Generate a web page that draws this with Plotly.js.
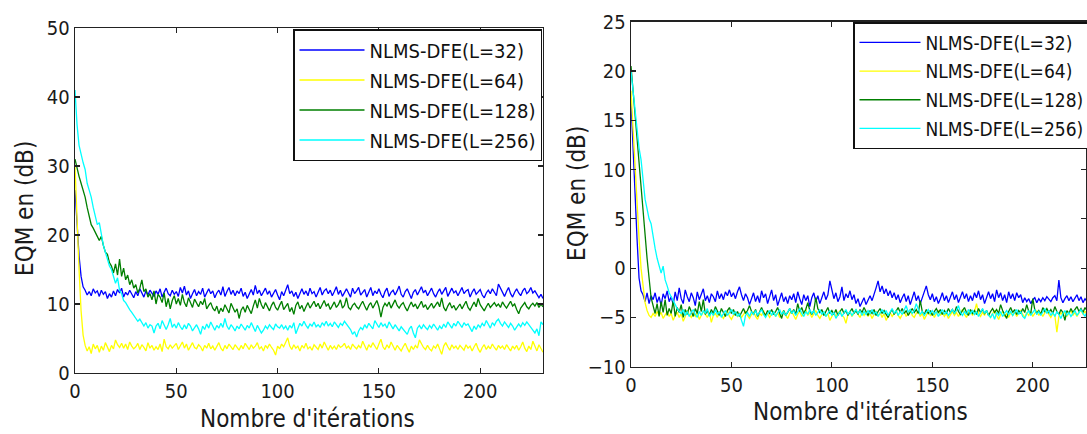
<!DOCTYPE html>
<html>
<head>
<meta charset="utf-8">
<script src="https://cdn.plot.ly/plotly-3.0.1.min.js"></script>
<style>html,body{margin:0;padding:0;background:#fff;}#chart{width:1087px;height:434px;}</style>
</head>
<body>
<div id="chart"></div>
<script>
// ---------- DATA ----------
const seriesNames = ["NLMS-DFE(L=32)", "NLMS-DFE(L=64)", "NLMS-DFE(L=128)", "NLMS-DFE(L=256)"];
const seriesColors = ["#0000ff", "#ffff00", "#007f00", "#00ffff"];

// Left panel (EQM, dB)
const leftL32 = [26.5,21.5,17,14,12.5,12,11.3,11.8,11.2,12.2,
11.6,11.9,11.1,12.0,11.4,11.8,10.8,11.5,11.0,11.9,
11.2,12.1,11.6,12.3,11.0,11.7,11.3,12.0,11.4,10.9,
11.8,11.2,12.2,11.5,11.0,11.9,11.3,12.0,11.6,11.1,
11.9,11.4,12.2,11.0,11.7,12.3,11.5,11.2,12.0,11.4,
11.8,11.1,12.4,11.6,12.6,11.3,11.9,10.8,11.5,12.1,
11.2,11.8,11.4,12.3,11.0,11.6,12.2,11.5,11.9,10.9,
11.6,12.0,11.3,12.5,11.1,11.8,12.4,11.4,12.0,11.2,
11.9,11.5,12.3,11.1,11.7,10.8,11.6,12.1,11.3,12.7,
11.5,12.0,11.2,11.8,12.3,11.4,11.9,11.0,11.6,12.1,
11.3,10.6,11.8,11.2,12.0,12.8,11.5,11.9,11.1,11.7,
10.8,11.6,12.2,11.4,11.9,11.2,12.3,11.5,11.8,11.0,
11.7,12.4,11.3,11.9,12.2,11.5,12.0,11.2,11.8,12.5,
11.4,12.0,11.1,11.7,12.2,11.6,11.0,12.3,11.5,11.9,
12.4,11.3,11.8,12.1,11.0,11.7,12.4,11.2,11.9,11.5,
12.2,11.4,10.9,11.8,12.3,11.1,11.7,12.0,11.3,11.9,
12.6,11.4,11.0,11.8,12.2,11.5,10.8,11.7,12.1,11.3,
11.9,12.5,11.6,12.0,11.2,11.8,12.3,11.5,11.0,11.7,
12.2,11.4,11.9,12.4,11.1,11.7,12.3,11.6,11.9,11.2,
11.8,12.4,11.5,11.9,12.1,11.0,11.7,12.2,11.4,11.8,
12.1,11.3,10.9,11.6,12.0,11.5,12.2,11.7,11.2,12.9,
12.3,11.6,11.1,11.8,12.4,11.5,11.0,11.7,12.2,11.6,
11.2,11.9,12.3,11.5,11.8,12.4,11.6,11.9,11.3,10.9,
11.4,10.8];
const leftL64 = [30,22,15,9,5.5,4,3.2,3.8,2.8,4.2,
3.5,4.0,3.0,3.9,3.3,4.4,3.6,3.1,4.0,3.5,
4.8,4.1,3.7,4.3,3.6,4.2,3.4,4.5,3.9,3.5,
3.8,4.3,3.4,4.1,3.7,3.2,4.4,3.6,4.0,3.3,
3.8,3.4,4.2,3.1,4.9,3.8,3.5,4.1,3.6,3.9,
4.3,3.4,3.9,4.5,3.6,4.2,3.3,3.9,4.4,3.7,
3.5,4.1,3.8,3.2,4.0,3.6,4.3,3.5,3.9,3.3,
3.9,4.4,3.6,3.2,4.0,3.5,4.2,3.8,3.4,4.1,
3.7,3.3,4.0,3.5,4.3,3.8,3.4,4.1,3.6,3.9,
4.4,3.5,3.8,3.2,4.0,3.6,4.2,3.7,3.3,2.6,
3.9,3.5,4.2,3.8,4.6,5.1,3.9,3.4,4.1,3.6,
3.9,3.2,4.0,3.6,4.3,3.5,3.8,3.3,4.1,3.7,
3.4,4.2,3.6,4.5,3.8,3.3,4.0,3.5,3.9,3.4,
4.1,3.7,3.9,4.3,3.6,3.9,3.4,4.2,3.8,3.5,
4.0,3.6,4.6,3.8,3.3,4.1,3.7,4.4,3.9,3.4,
4.2,4.9,3.8,3.4,4.1,3.6,4.5,3.9,3.3,4.0,
3.5,3.2,3.8,4.3,3.6,3.0,3.9,3.4,4.0,3.6,
4.8,4.2,3.7,3.4,4.0,3.5,3.2,3.9,3.6,4.2,
3.5,2.7,3.9,4.4,3.8,3.3,4.1,3.6,3.9,3.4,
4.0,3.7,3.3,4.1,3.6,3.9,3.2,3.8,4.3,3.5,
3.0,3.7,4.1,3.4,3.9,3.5,4.2,3.7,3.3,4.0,
3.6,3.9,3.4,4.1,3.7,3.2,3.9,3.5,4.0,3.3,
3.8,4.5,3.6,3.1,3.9,3.4,4.6,3.8,3.2,4.1,
3.5,3.0];
const leftL128 = [31,29.5,28.5,27.5,26.5,25.5,24,22.5,21.5,21,
20.5,19.8,19.2,19.8,18.5,17.5,17.2,16.0,15.5,14.5,
15.8,14.2,16.5,14.0,15.2,13.5,14.2,12.8,13.5,12.3,
12.8,11.6,12.3,13.5,11.8,12.2,11.0,11.5,10.6,11.9,
10.0,11.4,11.0,10.2,11.6,9.6,10.8,9.3,10.5,11.2,
10.0,10.8,9.8,11.4,10.2,9.6,10.9,10.3,9.5,10.7,
10.1,9.6,10.4,9.9,10.8,9.3,9.8,10.2,9.4,9.0,
9.7,8.6,9.4,8.9,9.9,9.2,8.7,10.1,9.5,8.8,
9.3,7.9,9.1,9.6,8.8,9.8,9.2,8.6,9.7,10.6,
9.4,10.8,9.9,9.3,10.2,9.6,9.0,9.8,10.3,9.5,
9.1,9.8,10.4,9.2,9.7,10.1,8.9,9.5,8.5,9.8,
10.3,9.3,9.8,8.9,9.6,10.2,9.4,9.9,10.4,9.6,
10.1,9.3,9.8,10.5,9.7,10.0,9.2,9.8,10.3,9.5,
9.9,10.6,9.4,9.8,10.9,9.5,9.2,9.8,10.1,9.6,
9.3,9.9,10.4,9.7,9.1,9.8,10.2,9.4,9.9,10.5,
9.6,8.1,9.5,10.1,9.7,10.3,9.4,9.9,10.6,9.8,
9.4,9.9,10.2,9.5,9.0,9.7,10.3,9.6,10.0,9.3,
9.8,10.4,9.5,9.9,9.2,9.7,10.1,9.4,9.8,10.3,
9.6,10.9,9.5,9.0,9.7,10.2,9.4,9.8,9.1,9.6,
10.0,9.3,9.8,10.4,9.5,9.1,9.7,10.3,9.6,10.8,
9.9,9.4,9.0,9.6,10.1,9.5,9.8,10.2,9.7,10.0,
9.5,10.3,9.8,9.4,9.9,10.4,9.7,10.0,9.2,8.6,
9.4,9.9,10.2,9.6,9.3,9.8,10.1,9.7,10.2,9.5,
10.0,9.6];
const leftL256 = [41,36,33,31.5,30.5,29.5,27.5,26.5,25.5,24.0,
22.5,21.5,21.8,20.0,18.5,17.5,16.5,15.5,15.0,14.0,
13.0,13.8,12.0,11.5,10.5,10.2,9.6,9.2,8.8,8.3,
8.0,7.5,7.8,7.2,6.8,7.3,6.5,7.0,6.8,5.8,
6.8,7.2,6.4,7.6,6.8,6.3,7.0,7.9,6.6,7.1,
6.5,7.3,6.7,6.3,7.0,6.4,7.2,6.8,6.1,6.6,
7.0,6.4,5.6,6.8,6.3,7.1,6.5,7.4,6.7,6.2,
6.9,6.5,7.2,6.6,7.9,6.8,6.3,7.0,6.6,6.1,
6.8,6.4,7.1,6.7,6.2,6.9,6.5,7.3,6.6,6.0,
6.9,6.3,5.8,6.2,6.8,6.4,7.0,6.6,6.3,7.1,
6.7,6.5,7.0,6.4,6.8,6.2,6.9,6.5,7.3,5.7,
6.6,7.2,6.8,7.5,6.9,6.5,7.1,6.8,7.4,6.7,
7.0,6.6,7.3,6.9,7.5,6.8,7.2,6.7,7.4,7.0,
6.6,7.2,6.9,7.5,7.1,6.8,6.3,5.6,6.0,5.2,
6.1,6.6,6.3,7.0,6.5,7.2,6.8,6.4,7.6,7.0,
6.6,7.3,6.8,7.1,6.5,7.4,6.9,6.4,7.0,6.5,
6.1,6.7,6.3,6.0,5.6,6.4,6.8,5.8,5.1,6.5,
6.9,6.4,7.0,6.6,6.3,6.9,6.5,7.1,6.7,6.2,
6.8,6.4,7.1,6.6,7.4,6.9,6.5,7.2,6.8,7.5,
7.0,6.6,7.3,6.9,7.1,6.5,6.0,6.8,6.3,7.0,
6.6,7.2,6.8,7.6,7.0,6.5,7.3,6.9,7.5,7.8,
7.2,6.8,7.4,7.0,6.6,7.2,6.8,6.2,6.6,7.1,
6.7,7.3,6.9,7.4,7.0,6.5,6.2,5.8,6.4,5.4,
7.4,7.0];

// Right panel (EQM, dB)
const rightL32 = [17,12,7,3,-1,-2.3,-2.7,-3.4,-2.5,-3.6,
-2.8,-3.2,-2.5,-3.5,-2.9,-3.8,-2.6,-3.1,-2.3,-3.4,
-2.9,-3.7,-2.4,-3.3,-2.0,-3.1,-3.6,-2.2,-2.9,-3.4,
-2.5,-3.0,-3.8,-2.4,-3.2,-2.7,-2.1,-3.3,-2.8,-3.5,
-2.6,-2.9,-3.4,-2.3,-3.1,-2.6,-3.2,-2.4,-2.8,-2.2,
-2.9,-2.5,-3.1,-2.4,-1.9,-2.7,-3.3,-2.6,-3.0,-3.7,
-3.1,-2.5,-3.4,-2.8,-3.5,-2.3,-3.0,-2.6,-3.6,-2.9,
-2.2,-3.3,-2.7,-3.8,-3.0,-2.5,-3.4,-2.9,-3.6,-2.8,
-3.2,-2.6,-3.5,-2.4,-3.1,-3.7,-2.7,-3.3,-2.8,-3.9,
-3.0,-2.5,-3.4,-2.8,-3.6,-3.0,-2.4,-3.2,-2.7,-1.3,
-2.2,-3.1,-2.5,-3.4,-2.9,-1.9,-3.3,-2.6,-3.0,-2.3,
-3.2,-2.7,-3.6,-3.1,-3.9,-3.4,-3.0,-3.7,-3.2,-2.8,
-3.3,-2.5,-2.0,-1.3,-2.4,-1.8,-2.6,-2.1,-2.8,-2.3,
-3.0,-2.5,-3.2,-2.7,-3.5,-3.0,-2.6,-3.4,-2.8,-3.7,
-3.1,-2.4,-3.3,-2.8,-3.6,-3.0,-2.3,-1.8,-2.7,-3.2,
-2.6,-3.4,-2.9,-3.6,-3.1,-2.5,-3.3,-2.8,-3.5,-3.0,
-2.4,-3.2,-2.7,-3.5,-2.9,-2.4,-3.1,-2.6,-3.4,-2.8,
-3.3,-2.5,-3.0,-2.3,-3.2,-2.7,-3.6,-2.9,-2.4,-3.1,
-2.6,-3.4,-2.2,-3.0,-2.5,-3.3,-2.7,-3.5,-2.4,-3.1,
-2.6,-3.3,-2.5,-3.0,-2.7,-3.5,-3.0,-3.4,-3.1,-3.6,
-3.2,-3.0,-3.5,-3.1,-3.4,-3.0,-3.3,-2.9,-3.2,-3.4,
-3.0,-2.8,-3.3,-1.2,-3.0,-3.5,-3.1,-2.8,-3.3,-2.9,
-3.4,-3.0,-2.7,-3.3,-2.9,-3.5,-3.1,-3.4];
const rightL64 = [18,14,10,6.5,3,0,-2,-3.5,-4.3,-4.8,
-5.0,-4.6,-4.9,-4.4,-4.8,-4.5,-5.1,-4.7,-4.4,-4.9,
-4.6,-5.3,-4.8,-4.5,-5.0,-4.6,-5.4,-4.9,-4.3,-4.7,
-5.0,-4.6,-4.9,-4.5,-5.2,-4.8,-4.4,-4.7,-5.0,-4.5,
-5.5,-4.8,-4.6,-5.0,-4.4,-4.8,-5.1,-4.7,-4.3,-4.9,
-5.2,-4.8,-4.5,-4.9,-4.6,-5.0,-4.7,-4.4,-4.8,-5.1,
-4.7,-4.4,-4.9,-5.2,-4.6,-4.8,-4.3,-4.9,-4.6,-5.0,
-4.7,-4.4,-4.9,-4.5,-5.0,-4.6,-4.3,-4.8,-5.1,-4.6,
-4.4,-4.8,-5.2,-4.7,-4.4,-4.9,-4.6,-4.2,-4.8,-4.5,
-5.0,-4.6,-4.3,-4.8,-5.1,-4.7,-4.4,-4.9,-4.6,-5.3,
-4.8,-4.5,-4.9,-4.6,-4.3,-4.8,-5.0,-5.6,-4.7,-4.4,
-4.9,-4.6,-4.2,-4.7,-5.0,-4.5,-4.8,-4.4,-4.9,-4.6,
-5.1,-4.7,-4.4,-4.8,-4.5,-5.0,-4.6,-5.3,-4.8,-4.5,
-4.9,-4.6,-4.3,-4.8,-5.1,-4.7,-4.4,-4.9,-4.6,-4.2,
-4.8,-5.0,-4.6,-4.4,-4.9,-4.6,-5.2,-4.7,-4.4,-4.8,
-4.5,-5.0,-4.6,-4.3,-4.8,-4.5,-4.9,-4.6,-5.1,-4.7,
-4.4,-4.8,-4.5,-4.9,-4.6,-4.2,-4.7,-5.0,-4.5,-4.3,
-4.8,-4.4,-3.6,-4.6,-4.9,-4.5,-4.8,-4.3,-4.7,-5.0,
-4.6,-4.3,-4.8,-5.2,-4.7,-4.4,-4.9,-4.6,-5.0,-4.5,
-4.8,-4.4,-4.9,-4.6,-4.3,-4.7,-5.0,-4.5,-4.8,-4.4,
-4.9,-4.6,-4.3,-4.8,-4.5,-4.9,-4.6,-4.2,-4.7,-5.0,
-4.6,-4.8,-6.5,-4.9,-4.5,-4.8,-4.4,-4.9,-4.6,-4.3,
-4.8,-4.5,-4.9,-4.6,-4.2,-4.7,-4.4,-4.6];
const rightL128 = [20.5,18,15.5,13,11,8.5,5.5,3,1,-1,
-3.0,-3.8,-4.6,-3.6,-4.9,-3.4,-4.5,-3.2,-4.8,-4.1,
-4.6,-3.3,-4.9,-4.0,-4.5,-3.7,-5.0,-4.2,-4.7,-3.9,
-4.5,-4.9,-4.1,-4.6,-3.4,-4.4,-3.2,-4.7,-4.3,-4.8,
-4.2,-4.6,-3.9,-4.4,-4.8,-4.1,-4.5,-4.9,-4.3,-4.0,
-4.6,-4.2,-4.8,-4.4,-4.9,-4.5,-4.1,-4.6,-4.3,-3.8,
-4.4,-4.7,-4.2,-4.9,-4.4,-4.0,-4.5,-4.8,-4.3,-4.6,
-4.2,-4.7,-4.4,-4.0,-4.6,-5.1,-4.3,-4.8,-4.5,-4.1,
-4.6,-4.2,-4.7,-3.6,-4.4,-4.0,-4.6,-4.2,-3.5,-4.3,
-4.7,-4.3,-3.0,-4.1,-4.5,-4.2,-4.8,-4.4,-4.0,-4.6,
-4.3,-4.7,-4.2,-4.8,-4.4,-4.1,-4.6,-4.3,-4.8,-4.5,
-4.1,-4.6,-4.3,-4.7,-4.2,-4.5,-4.0,-4.4,-4.8,-4.3,
-4.6,-4.2,-4.8,-4.4,-4.1,-4.6,-4.3,-4.7,-5.0,-4.5,
-4.2,-4.7,-4.4,-4.0,-4.5,-4.1,-4.6,-4.3,-4.8,-4.4,
-4.1,-4.5,-4.2,-4.6,-3.3,-4.4,-4.7,-4.2,-4.6,-4.3,
-4.8,-4.4,-4.1,-4.5,-4.2,-4.7,-4.3,-4.6,-4.1,-4.5,
-4.2,-4.6,-3.9,-4.4,-4.7,-4.3,-4.0,-4.5,-4.8,-4.2,
-4.6,-4.3,-4.7,-4.1,-4.5,-4.2,-4.6,-4.3,-4.8,-4.4,
-4.1,-4.5,-4.2,-4.6,-3.7,-4.3,-4.7,-5.1,-4.4,-4.0,
-4.5,-4.2,-4.7,-4.3,-4.6,-4.1,-4.5,-3.7,-4.4,-4.6,
-3.1,-4.2,-4.6,-4.3,-4.7,-4.0,-4.4,-4.1,-4.5,-4.2,
-4.6,-3.9,-4.4,-4.7,-4.2,-4.5,-5.3,-4.3,-4.6,-4.1,
-4.5,-4.2,-3.9,-4.4,-4.1,-4.5,-4.0,-4.3];
const rightL256 = [20,18,16,14,12.2,11,9,7,6,5,
4.5,3,2,1,0.3,-0.5,0.2,-1.2,-1.8,-2.5,
-2.9,-3.4,-3.7,-4.1,-4.4,-4.6,-4.2,-4.8,-4.4,-4.9,
-4.5,-4.2,-4.7,-5.0,-4.4,-4.8,-4.3,-4.6,-4.1,-4.9,
-4.5,-4.8,-4.2,-4.7,-4.4,-5.0,-4.6,-4.3,-4.8,-4.5,
-4.2,-4.7,-4.4,-4.9,-4.6,-5.3,-5.9,-4.8,-4.5,-4.9,
-4.4,-4.7,-4.3,-4.8,-4.5,-4.2,-4.7,-5.0,-4.6,-4.3,
-4.8,-4.4,-4.9,-4.6,-4.2,-4.7,-4.4,-4.8,-4.5,-4.1,
-4.6,-4.3,-4.8,-4.5,-4.1,-4.6,-4.9,-4.4,-4.7,-4.2,
-4.6,-4.3,-4.8,-4.5,-4.2,-4.7,-4.4,-4.9,-4.6,-4.3,
-4.8,-4.5,-5.1,-4.7,-4.4,-4.9,-4.5,-4.2,-4.7,-4.4,
-4.8,-4.5,-4.2,-4.6,-4.3,-4.8,-4.4,-4.7,-4.3,-4.6,
-4.2,-4.7,-4.4,-4.9,-4.5,-4.2,-4.6,-4.3,-4.8,-4.5,
-4.1,-4.6,-4.3,-4.8,-4.4,-4.7,-4.2,-3.8,-4.5,-4.2,
-4.6,-4.3,-3.6,-4.2,-4.7,-4.4,-4.8,-4.5,-4.2,-4.6,
-4.3,-4.7,-4.4,-4.9,-4.5,-4.2,-4.7,-4.4,-4.8,-4.5,
-4.2,-4.6,-4.3,-3.8,-4.5,-4.8,-4.4,-4.7,-4.2,-4.6,
-4.3,-4.7,-4.4,-4.9,-4.5,-4.1,-4.6,-4.3,-4.8,-5.0,
-4.6,-5.2,-4.5,-4.8,-4.4,-4.9,-4.6,-4.3,-4.7,-4.4,
-4.8,-4.5,-4.2,-4.7,-4.4,-4.9,-5.1,-4.6,-4.3,-4.8,
-4.5,-4.2,-4.7,-4.4,-4.8,-4.5,-4.1,-4.6,-4.3,-4.8,
-4.5,-4.9,-4.4,-4.7,-5.1,-4.6,-4.3,-4.8,-4.5,-4.9,
-4.6,-4.3,-4.8,-4.5,-4.2,-4.6,-4.9,-4.4];

const leftYTicks = [0, 10, 20, 30, 40, 50];
const rightYTicks = [-10, -5, 0, 5, 10, 15, 20, 25];
const xTicks = [0, 50, 100, 150, 200];
const yTitle = "EQM en (dB)";
const xTitle = "Nombre d'itérations";

// ---------- BUILD ----------
const W = 1087, H = 434;
const FAM = 'DejaVu Sans Condensed, Liberation Sans, Arial, sans-serif';
const iterIndex = n => Array.from({length: n}, (_, i) => i);
const leftSeries = [leftL32, leftL64, leftL128, leftL256];
const rightSeries = [rightL32, rightL64, rightL128, rightL256];

const traces = [];
leftSeries.forEach((ys, k) => traces.push({
  x: iterIndex(ys.length), y: ys, type: 'scatter', mode: 'lines',
  name: seriesNames[k], line: {color: seriesColors[k], width: 1.3},
  xaxis: 'x', yaxis: 'y', legend: 'legend', legendgroup: 'l' + k
}));
rightSeries.forEach((ys, k) => traces.push({
  x: iterIndex(ys.length), y: ys, type: 'scatter', mode: 'lines',
  name: seriesNames[k], line: {color: seriesColors[k], width: 1.3},
  xaxis: 'x2', yaxis: 'y2', legend: 'legend2', legendgroup: 'r' + k
}));

const px = v => v / W;
const py = v => 1 - v / H;
const tickFont = {family: FAM, size: 20, color: '#1a1a1a'};
const axisBase = {
  showline: true, linecolor: '#222', linewidth: 1.3, mirror: 'ticks',
  ticks: 'inside', ticklen: 5, tickwidth: 1.2, tickcolor: '#222',
  showgrid: false, zeroline: false, tickfont: tickFont, fixedrange: true, automargin: false
};
const legendBase = {
  xanchor: 'left', yanchor: 'top', bgcolor: '#fff', bordercolor: '#111', borderwidth: 1.5
};
const titleFont = {family: FAM, size: 24, color: '#1a1a1a'};

const layout = {
  width: W, height: H, margin: {l: 0, r: 0, t: 0, b: 0, autoexpand: false},
  paper_bgcolor: '#fff', plot_bgcolor: '#fff', showlegend: true,
  xaxis: Object.assign({}, axisBase, {domain: [px(75), px(543)], range: [0, 231], tickvals: xTicks, anchor: 'y'}),
  yaxis: Object.assign({}, axisBase, {domain: [py(373), py(28)], range: [0, 50], tickvals: leftYTicks, anchor: 'x'}),
  xaxis2: Object.assign({}, axisBase, {domain: [px(631), px(1086)], range: [0, 226.5], tickvals: xTicks, anchor: 'y2'}),
  yaxis2: Object.assign({}, axisBase, {domain: [py(366.7), py(21.7)], range: [-10, 25], tickvals: rightYTicks, anchor: 'x2'}),
  legend: Object.assign({}, legendBase, {x: px(293), y: py(29), tracegroupgap: 1, itemwidth: 65,
    font: {family: FAM, size: 20, color: '#111'}}),
  legend2: Object.assign({}, legendBase, {x: px(853), y: py(22), tracegroupgap: 1, itemwidth: 61,
    font: {family: FAM, size: 19, color: '#111'}}),
  annotations: [
    {text: yTitle, xref: 'paper', yref: 'paper', x: px(25), y: py(209), xanchor: 'center', yanchor: 'middle',
     textangle: -90, showarrow: false, font: titleFont},
    {text: xTitle, xref: 'paper', yref: 'paper', x: px(307), y: py(419), xanchor: 'center', yanchor: 'middle',
     showarrow: false, font: titleFont},
    {text: yTitle, xref: 'paper', yref: 'paper', x: px(577), y: py(194), xanchor: 'center', yanchor: 'middle',
     textangle: -90, showarrow: false, font: titleFont},
    {text: xTitle, xref: 'paper', yref: 'paper', x: px(860), y: py(412), xanchor: 'center', yanchor: 'middle',
     showarrow: false, font: titleFont}
  ]
};

Plotly.newPlot('chart', traces, layout, {displayModeBar: false, staticPlot: true});
</script>
</body>
</html>
